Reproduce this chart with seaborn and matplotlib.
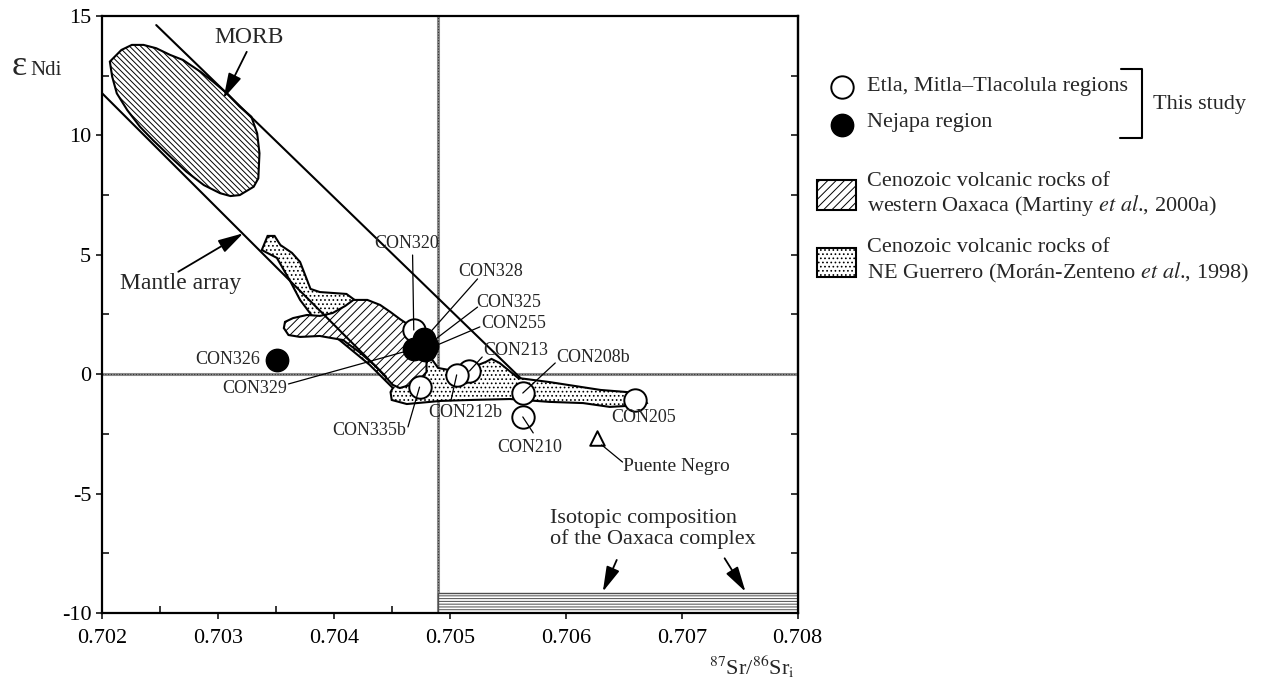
import matplotlib
matplotlib.use("Agg")
import matplotlib.pyplot as plt
from matplotlib.patches import Polygon, Rectangle
from matplotlib.ticker import MultipleLocator, FormatStrFormatter
import seaborn as sns
import pandas as pd

sns.set_style("ticks")
plt.rcParams["font.family"] = ["Liberation Serif", "DejaVu Serif"]
plt.rcParams["mathtext.fontset"] = "stix"
plt.rcParams["axes.unicode_minus"] = False
plt.rcParams["hatch.linewidth"] = 0.7
plt.rcParams["hatch.color"] = "black"

# samples of this study (87Sr/86Sr initial, eNd initial)
open_names = ["CON320", "CON213", "CON212b", "CON335b", "CON208b", "CON210", "CON205"]
open_sr = [0.70469, 0.70517, 0.70506, 0.70474, 0.70563, 0.70563, 0.70660]
open_nd = [1.85, 0.13, -0.03, -0.54, -0.79, -1.79, -1.08]

filled_names = ["CON326", "CON328", "CON325", "CON255", "CON329"]
filled_sr = [0.70351, 0.70478, 0.70480, 0.70479, 0.70469]
filled_nd = [0.60, 1.47, 1.18, 1.01, 1.05]

# sample labels: text position and start of the leader line (None = no leader)
label_names = ["CON320", "CON328", "CON325", "CON255", "CON326", "CON329",
               "CON213", "CON212b", "CON335b", "CON208b", "CON210", "CON205"]
label_sr = [0.70463, 0.70535, 0.70551, 0.70555, 0.70309, 0.70332,
            0.70557, 0.70513, 0.70431, 0.70624, 0.70569, 0.70667]
label_nd = [5.49, 4.29, 3.02, 2.13, 0.62, -0.58,
            1.01, -1.62, -2.34, 0.68, -3.05, -1.83]
leader_sr = [0.70468, 0.70524, 0.70524, 0.70526, None, 0.70361,
             0.70528, 0.70501, 0.70464, 0.70591, 0.70572, None]
leader_nd = [4.99, 3.99, 2.81, 1.98, None, -0.41,
             0.72, -1.12, -2.21, 0.47, -2.46, None]

# Puente Negro
pn_sr = [0.70627]
pn_nd = [-2.67]

# MORB field
morb_sr = [0.70207, 0.70217, 0.70226, 0.70236, 0.70247, 0.70259, 0.70270, 0.70285,
           0.70296, 0.70308, 0.70319, 0.70329, 0.70334, 0.70336, 0.70335, 0.70331,
           0.70319, 0.70311, 0.70302, 0.70288, 0.70273, 0.70259, 0.70244, 0.70233,
           0.70222, 0.70213, 0.70209]
morb_nd = [13.09, 13.58, 13.79, 13.79, 13.65, 13.37, 13.16, 12.67,
           12.25, 11.76, 11.20, 10.78, 10.09, 9.25, 8.20, 7.85,
           7.50, 7.46, 7.58, 7.92, 8.48, 9.11, 9.81, 10.36,
           11.06, 11.76, 12.46]

# Cenozoic volcanic rocks of NE Guerrero
gue_sr = [0.70338, 0.70343, 0.70349, 0.70354, 0.70364, 0.70371, 0.70380, 0.70388,
          0.70411, 0.70418, 0.70416, 0.70410, 0.70401, 0.70431, 0.70457, 0.70479,
          0.70490, 0.70509, 0.70531, 0.70536, 0.70543, 0.70559, 0.70586, 0.70630,
          0.70653, 0.70664, 0.70670, 0.70667, 0.70638, 0.70615, 0.70586, 0.70552,
          0.70518, 0.70492, 0.70463, 0.70450, 0.70449, 0.70451, 0.70431, 0.70405,
          0.70384, 0.70371, 0.70362, 0.70351]
gue_nd = [5.20, 5.79, 5.79, 5.41, 5.08, 4.70, 3.57, 3.44,
          3.36, 3.11, 2.81, 2.60, 2.52, 2.48, 1.85, 1.01,
          0.26, 0.09, 0.51, 0.64, 0.47, -0.16, -0.33, -0.66,
          -0.75, -0.87, -1.21, -1.29, -1.37, -1.21, -1.16, -1.04,
          -1.08, -1.12, -1.25, -1.08, -0.75, -0.58, 0.39, 1.43,
          2.27, 3.11, 3.94, 4.87]

# Cenozoic volcanic rocks of western Oaxaca
oax_sr = [0.70358, 0.70365, 0.70377, 0.70388, 0.70399, 0.70410, 0.70417, 0.70429,
          0.70440, 0.70449, 0.70457, 0.70466, 0.70474, 0.70480, 0.70480, 0.70474,
          0.70466, 0.70457, 0.70451, 0.70444, 0.70436, 0.70423, 0.70408, 0.70388,
          0.70371, 0.70361, 0.70357]
oax_nd = [2.19, 2.35, 2.48, 2.44, 2.56, 2.86, 3.11, 3.11,
          2.90, 2.60, 2.31, 2.02, 1.73, 1.22, 0.09, -0.24,
          -0.45, -0.58, -0.45, -0.08, 0.34, 0.89, 1.43, 1.60,
          1.56, 1.64, 1.93]

# mantle array limits
mantle_up_sr = [0.70247, 0.70561]
mantle_up_nd = [14.62, -0.16]
mantle_lo_sr = [0.70200, 0.70445]
mantle_lo_nd = [11.78, -0.10]

# bulk earth reference lines
bulk_sr = 0.7049
bulk_nd = 0.0

# Oaxaca complex band
complex_sr = [0.7049, 0.7080]
complex_nd = [-10.0, -9.15]

open_df = pd.DataFrame({"sr": open_sr, "nd": open_nd, "name": open_names})
filled_df = pd.DataFrame({"sr": filled_sr, "nd": filled_nd, "name": filled_names})

fig = plt.figure(figsize=(12.7, 6.81), dpi=100)
ax = fig.add_axes([0.0801, 0.0999, 0.548, 0.8766])
ax.set_xlim(0.702, 0.708)
ax.set_ylim(-10, 15)

# fields
ax.add_patch(Polygon(list(zip(gue_sr, gue_nd)), closed=True, facecolor="white",
                     edgecolor="black", hatch="....", lw=1.5, zorder=2))
ax.add_patch(Polygon(list(zip(oax_sr, oax_nd)), closed=True, facecolor="white",
                     edgecolor="black", hatch="////", lw=1.5, zorder=3))
ax.add_patch(Polygon(list(zip(morb_sr, morb_nd)), closed=True, facecolor="white",
                     edgecolor="black", hatch="\\\\\\\\\\\\", lw=1.5, zorder=2))
ax.add_patch(Rectangle((complex_sr[0], complex_nd[0]), complex_sr[1] - complex_sr[0],
                       complex_nd[1] - complex_nd[0], facecolor="white",
                       edgecolor="0.3", hatch="------", lw=1.0, zorder=2))

# reference lines
ax.axhline(bulk_nd, color="0.55", lw=2.2, zorder=1)
ax.axhline(bulk_nd, color="0.2", lw=0.8, ls=(0, (1, 1.5)), zorder=1)
ax.axvline(bulk_sr, color="0.55", lw=2.2, zorder=1)
ax.axvline(bulk_sr, color="0.2", lw=0.8, ls=(0, (1, 1.5)), zorder=1)

ax.plot(mantle_up_sr, mantle_up_nd, color="black", lw=1.5, zorder=4)
ax.plot(mantle_lo_sr, mantle_lo_nd, color="black", lw=1.5, zorder=4)

# samples
sns.scatterplot(data=open_df, x="sr", y="nd", ax=ax, s=260, color="white",
                edgecolor="black", linewidth=1.4, zorder=6, legend=False)
sns.scatterplot(data=filled_df, x="sr", y="nd", ax=ax, s=260, color="black",
                edgecolor="black", linewidth=1.0, zorder=6, legend=False)
sns.scatterplot(x=pn_sr, y=pn_nd, ax=ax, s=110, marker="^", color="white",
                edgecolor="black", linewidth=1.4, zorder=6, legend=False)

all_sr = dict(zip(open_names + filled_names, open_sr + filled_sr))
all_nd = dict(zip(open_names + filled_names, open_nd + filled_nd))
for name, tx, ty, lx, ly in zip(label_names, label_sr, label_nd, leader_sr, leader_nd):
    ax.text(tx, ty, name, fontsize=13, ha="center", va="center", zorder=8)
    if lx is not None:
        ax.plot([lx, all_sr[name]], [ly, all_nd[name]], color="black", lw=0.9, zorder=7)

ax.text(pn_sr[0] + 0.00022, pn_nd[0] - 1.2, "Puente Negro", fontsize=14,
        ha="left", va="center", zorder=8)
ax.plot([pn_sr[0] + 0.00004, pn_sr[0] + 0.00022], [pn_nd[0] - 0.29, pn_nd[0] - 1.01],
        color="black", lw=0.9, zorder=7)

arrow = dict(arrowstyle="-|>,head_length=1.1,head_width=0.3", color="black",
             lw=1.3, shrinkA=0, shrinkB=0, mutation_scale=14)
ax.text(0.70327, 14.08, "MORB", fontsize=17, ha="center", va="center")
ax.annotate("", xy=(0.70305, 11.55), xytext=(0.70325, 13.50), arrowprops=arrow, zorder=8)
ax.text(0.70216, 3.81, "Mantle array", fontsize=17, ha="left", va="center")
ax.annotate("", xy=(0.70322, 5.90), xytext=(0.70266, 4.29), arrowprops=arrow, zorder=8)
ax.text(0.705865, -6.49, "Isotopic composition\nof the Oaxaca complex", fontsize=16,
        ha="left", va="center", linespacing=1.05)
ax.annotate("", xy=(0.70632, -9.11), xytext=(0.70644, -7.78), arrowprops=arrow, zorder=8)
ax.annotate("", xy=(0.70755, -9.11), xytext=(0.70737, -7.71), arrowprops=arrow, zorder=8)

# axes styling
ax.xaxis.set_major_locator(MultipleLocator(0.001))
ax.xaxis.set_minor_locator(MultipleLocator(0.0005))
ax.yaxis.set_major_locator(MultipleLocator(5))
ax.yaxis.set_minor_locator(MultipleLocator(2.5))
ax.xaxis.set_major_formatter(FormatStrFormatter("%.3f"))
ax.yaxis.set_major_formatter(FormatStrFormatter("%d"))
ax.tick_params(which="major", direction="out", length=4.5, width=1.1, labelsize=16,
               color="black", labelcolor="black")
ax.tick_params(axis="x", which="major", pad=7)
ax.tick_params(axis="y", which="major", pad=3)
ax.tick_params(which="minor", direction="in", length=5, width=1.1, color="black")
for sp in ax.spines.values():
    sp.set_linewidth(1.6)
    sp.set_color("black")
ax.set_xlabel("")
ax.set_ylabel("")
axr = ax.secondary_yaxis("right")
axr.yaxis.set_major_locator(MultipleLocator(2.5))
axr.tick_params(direction="in", length=5, width=1.1, labelright=False, color="black")
axr.spines["right"].set_linewidth(1.6)

# overlay for labels and legend, in pixel units
lax = fig.add_axes([0, 0, 1, 1])
lax.set_xlim(0, 1270)
lax.set_ylim(681, 0)
lax.axis("off")

lax.text(12, 75, "ɛ", fontsize=26, ha="left", va="baseline")
lax.text(30, 75, "Ndi", fontsize=15, ha="left", va="baseline")
lax.text(795, 667, r"$^{87}$Sr/$^{86}$Sr$_{\mathrm{i}}$", fontsize=16, ha="right", va="center")

lax.scatter([842], [87], s=260, facecolor="white", edgecolor="black", linewidth=1.4)
lax.scatter([842], [125], s=260, facecolor="black", edgecolor="black")
lax.text(867, 86, "Etla, Mitla–Tlacolula regions", fontsize=16, ha="left", va="center")
lax.text(867, 123, "Nejapa region", fontsize=16, ha="left", va="center")
lax.plot([1121, 1142, 1142, 1120], [69, 69, 138, 138], color="black", lw=1.5)
lax.text(1153, 104, "This study", fontsize=16, ha="left", va="center")

lax.add_patch(Rectangle((817, 180), 39, 30, facecolor="white", edgecolor="black",
                        hatch="////", lw=1.5))
lax.text(867, 181, "Cenozoic volcanic rocks of", fontsize=16, ha="left", va="center")
lax.text(867, 205, r"western Oaxaca (Martiny $\mathit{et\ al}$., 2000a)", fontsize=16,
         ha="left", va="center")
lax.add_patch(Rectangle((817, 248), 39, 29, facecolor="white", edgecolor="black",
                        hatch="....", lw=1.5))
lax.text(867, 247, "Cenozoic volcanic rocks of", fontsize=16, ha="left", va="center")
lax.text(867, 273, r"NE Guerrero (Morán-Zenteno $\mathit{et\ al}$., 1998)", fontsize=16,
         ha="left", va="center")

fig.savefig("out.png", dpi=100)
